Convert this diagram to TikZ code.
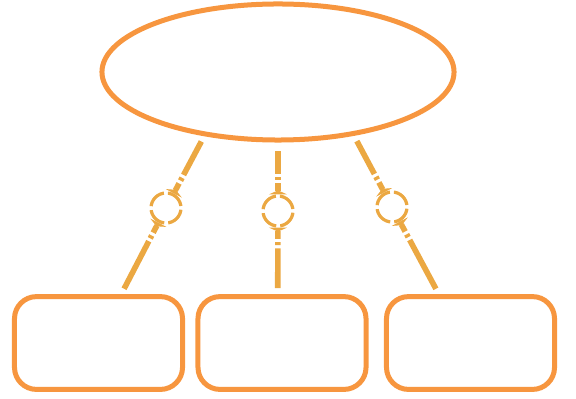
\documentclass[tikz,border=0pt]{standalone}
\usetikzlibrary{arrows.meta,shapes.geometric}
\definecolor{edgeorange}{HTML}{F7963F}
\definecolor{linkgold}{HTML}{EBA842}
\tikzset{
  topell/.style={draw=edgeorange, ellipse, line width=0.125cm, fill=white, minimum width=8.8cm, minimum height=3.4cm},
  leafbox/.style={draw=edgeorange, rectangle, rounded corners=0.55cm, line width=0.125cm, fill=white, minimum width=4.2cm, minimum height=2.32cm},
  joint/.style={draw=linkgold, circle, minimum size=0.75cm, inner sep=0pt, line width=0.08cm, dash pattern=on 0.49cm off 0.1cm, dash phase=0.54cm},
  link/.style={draw=linkgold, line width=0.14cm, {Triangle[reversed, length=0.1cm, width=0.45cm]}-,
    dash pattern=on 0.2cm off 0.08cm on 0.08cm off 0.08cm on 12cm},
}

\begin{document}
\begin{tikzpicture}[x=0.025cm, y=-0.025cm]
\useasboundingbox (0,0) rectangle (576,399);

% parent
\node[topell] (top) at (278,72) {};

% children
\node[leafbox] (b1) at (98.5,343) {};
\node[leafbox] (b2) at (282,343) {};
\node[leafbox] (b3) at (470.5,343) {};

% joints
\node[joint] (c1) at (166,208) {};
\node[joint] (c2) at (278,211) {};
\node[joint] (c3) at (392,207) {};

% links
\draw[link, shorten >=0.15cm] (c1) -- (top.221);
\draw[link, shorten >=0.15cm] (c1) -- (b1.65);
\draw[link, shorten >=0.2cm] (c2) -- (top.270);
\draw[link, shorten >=0.15cm] (c2) -- (b2.95);
\draw[link, shorten >=0.15cm] (c3) -- (top.320);
\draw[link, shorten >=0.15cm] (c3) -- (b3.123);

\end{tikzpicture}
\end{document}
